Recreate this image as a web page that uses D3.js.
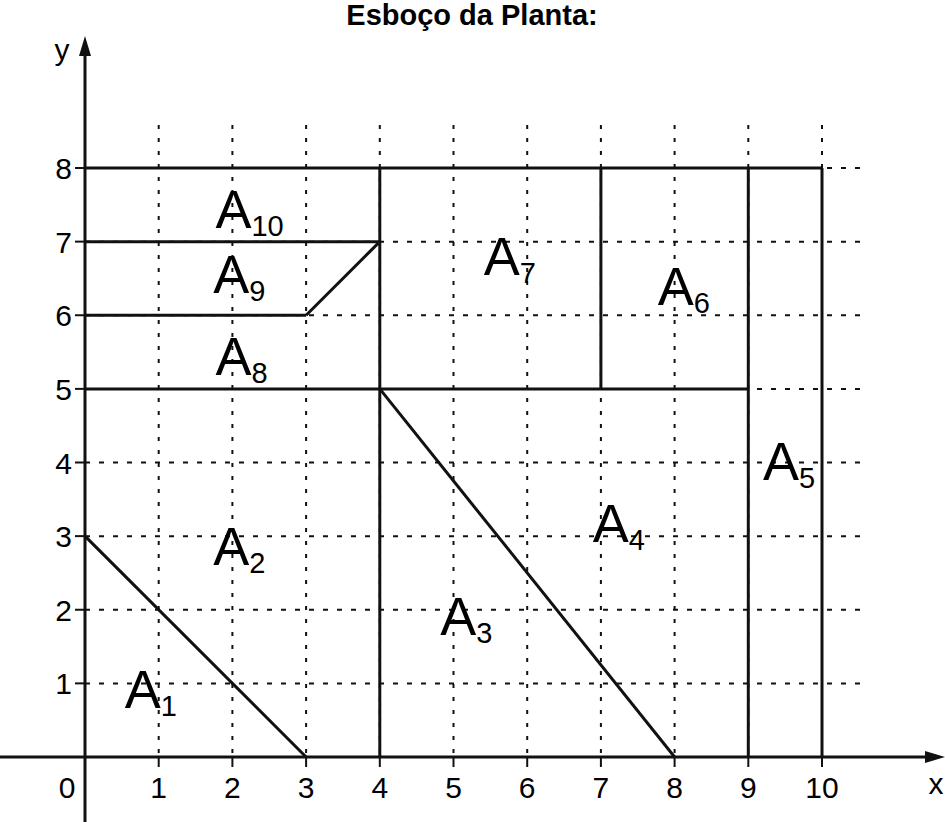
<!DOCTYPE html><html><head><script src="https://cdn.jsdelivr.net/npm/d3@7"></script>
<style>body{margin:0;background:#fff}</style></head><body><svg id="c" width="945" height="822"></svg>
<script>
const xTicks=[1,2,3,4,5,6,7,8,9,10];
const yTicks=[1,2,3,4,5,6,7,8];
const segments=[[0,8,10,8],[0,7,4,7],[0,6,3,6],[3,6,4,7],[0,5,9,5],[4,0,4,8],[7,5,7,8],[9,0,9,8],[10,0,10,8],[0,3,3,0],[4,5,8,0]];
const labels=[["A","10",1.77,7.19],["A","9",1.74,6.3],["A","8",1.77,5.19],["A","2",1.74,2.61],["A","1",0.54,0.67],["A","3",4.82,1.66],["A","4",6.89,2.92],["A","5",9.2,3.76],["A","6",7.77,6.14],["A","7",5.41,6.55]];
const svg=d3.select("#c");
const x=d3.scaleLinear([0,10],[85,822]);
const y=d3.scaleLinear([0,8],[757,168]);
const F="Liberation Sans, Arial, sans-serif";
svg.append("text").attr("x",472).attr("y",25).attr("text-anchor","middle").attr("font-family",F).attr("font-weight","bold").attr("font-size",29).text("Esboço da Planta:");
const g=svg.append("g");
xTicks.forEach(t=>g.append("line").attr("x1",x(t)).attr("x2",x(t)).attr("y1",125).attr("y2",y(0)).attr("stroke","#111").attr("stroke-width",2).attr("stroke-dasharray","4,9"));
yTicks.forEach(t=>g.append("line").attr("x1",x(0)).attr("x2",862).attr("y1",y(t)).attr("y2",y(t)).attr("stroke","#111").attr("stroke-width",2).attr("stroke-dasharray","5,9"));
segments.forEach(s=>g.append("line").attr("x1",x(s[0])).attr("y1",y(s[1])).attr("x2",x(s[2])).attr("y2",y(s[3])).attr("stroke","#111").attr("stroke-width",3));
g.append("line").attr("x1",0).attr("x2",935).attr("y1",y(0)).attr("y2",y(0)).attr("stroke","#111").attr("stroke-width",3);
g.append("line").attr("x1",x(0)).attr("x2",x(0)).attr("y1",822).attr("y2",45).attr("stroke","#111").attr("stroke-width",3);
g.append("path").attr("d",`M945,${y(0)} L925,${y(0)-6} L925,${y(0)+6}Z`).attr("fill","#111");
g.append("path").attr("d",`M${x(0)},36 L${x(0)-6},56 L${x(0)+6},56Z`).attr("fill","#111");
xTicks.forEach(t=>{g.append("line").attr("x1",x(t)).attr("x2",x(t)).attr("y1",y(0)).attr("y2",y(0)+10).attr("stroke","#111").attr("stroke-width",2);
 g.append("text").attr("x",x(t)).attr("y",798).attr("text-anchor","middle").attr("font-family",F).attr("font-size",30).text(t);});
yTicks.forEach(t=>{g.append("line").attr("x1",x(0)-10).attr("x2",x(0)).attr("y1",y(t)).attr("y2",y(t)).attr("stroke","#111").attr("stroke-width",2);
 g.append("text").attr("x",72).attr("y",y(t)+11).attr("text-anchor","end").attr("font-family",F).attr("font-size",30).text(t);});
g.append("text").attr("x",67).attr("y",798).attr("text-anchor","middle").attr("font-family",F).attr("font-size",30).text("0");
g.append("text").attr("x",936).attr("y",794).attr("text-anchor","middle").attr("font-family",F).attr("font-size",30).text("x");
g.append("text").attr("x",62).attr("y",60).attr("text-anchor","middle").attr("font-family",F).attr("font-size",30).text("y");
labels.forEach(l=>{const t=g.append("text").attr("x",x(l[2])).attr("y",y(l[3])).attr("font-family",F).attr("font-size",54).text(l[0]);
 t.append("tspan").attr("font-size",29).attr("dy",8).text(l[1]);});
</script></body></html>
